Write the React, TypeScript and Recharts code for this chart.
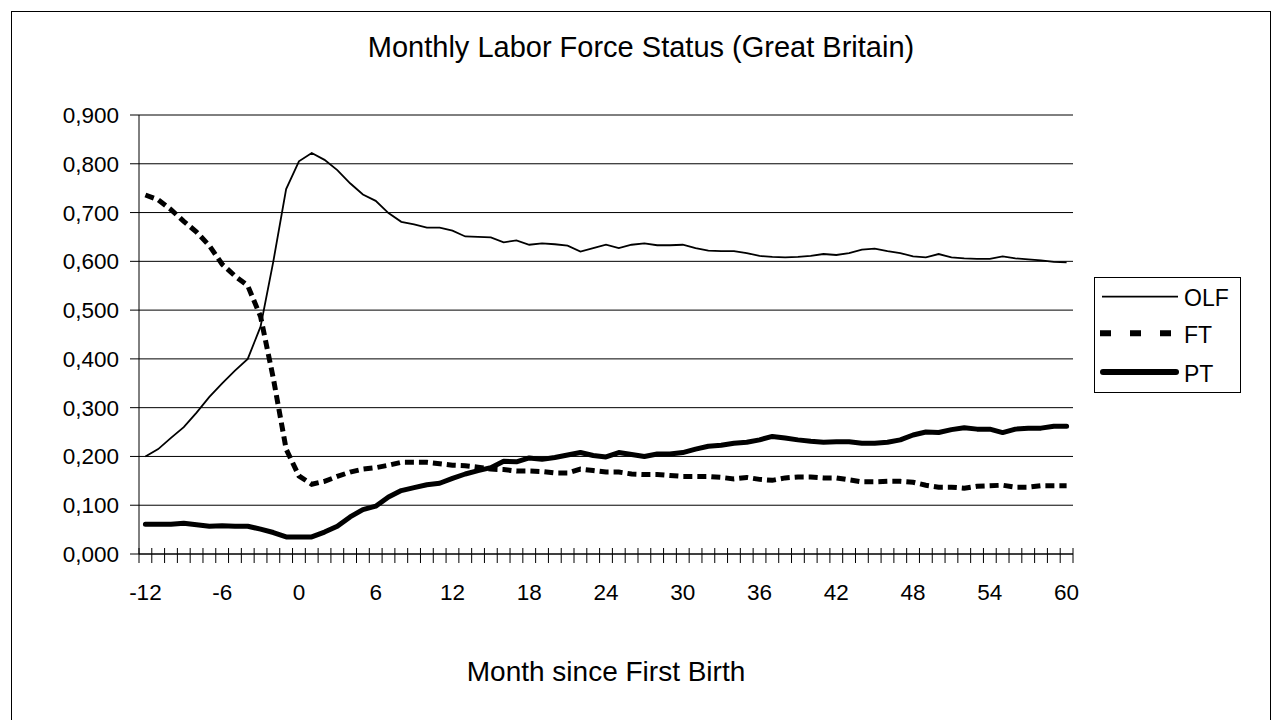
import { LineChart, Line, XAxis, YAxis, CartesianGrid } from "recharts";

const months = [
  -12, -11, -10, -9, -8, -7, -6, -5, -4, -3, -2, -1, 0, 1, 2, 3, 4, 5, 6, 7, 8, 9, 10, 11, 12,
  13, 14, 15, 16, 17, 18, 19, 20, 21, 22, 23, 24, 25, 26, 27, 28, 29, 30, 31, 32, 33, 34, 35, 36,
  37, 38, 39, 40, 41, 42, 43, 44, 45, 46, 47, 48, 49, 50, 51, 52, 53, 54, 55, 56, 57, 58, 59, 60,
];

const olf = [
  0.2, 0.215, 0.238, 0.26, 0.29, 0.322, 0.35, 0.376, 0.4, 0.466, 0.6, 0.748, 0.805, 0.822, 0.808,
  0.787, 0.76, 0.737, 0.724, 0.699, 0.681, 0.676, 0.669, 0.669, 0.663, 0.651, 0.65, 0.649, 0.639,
  0.643, 0.634, 0.637, 0.635, 0.632, 0.62, 0.627, 0.634, 0.627, 0.634, 0.637, 0.633, 0.633, 0.634,
  0.627, 0.622, 0.621, 0.621, 0.617, 0.611, 0.609, 0.608, 0.609, 0.611, 0.615, 0.613, 0.617, 0.624,
  0.626, 0.621, 0.617, 0.61, 0.608, 0.615, 0.608, 0.606, 0.605, 0.605, 0.61, 0.606, 0.604, 0.602,
  0.599, 0.598,
];

const ft = [
  0.736, 0.726, 0.706, 0.682, 0.66, 0.632, 0.594, 0.57, 0.55, 0.487, 0.36, 0.215, 0.16, 0.143,
  0.149, 0.159, 0.168, 0.174, 0.177, 0.182, 0.188, 0.188, 0.188, 0.185, 0.182, 0.181, 0.178, 0.174,
  0.173, 0.17, 0.17, 0.169, 0.166, 0.166, 0.174, 0.171, 0.168, 0.168, 0.164, 0.163, 0.163, 0.161,
  0.159, 0.159, 0.159, 0.157, 0.154, 0.157, 0.153, 0.151, 0.156, 0.158, 0.158, 0.156, 0.156, 0.152,
  0.148, 0.148, 0.149, 0.149, 0.147, 0.141, 0.137, 0.137, 0.135, 0.139, 0.14, 0.141, 0.137, 0.137,
  0.14, 0.14, 0.14,
];

const pt = [
  0.061, 0.061, 0.061, 0.063, 0.06, 0.057, 0.058, 0.057, 0.057, 0.051, 0.044, 0.035, 0.035, 0.035,
  0.045, 0.057, 0.076, 0.091, 0.098, 0.117, 0.13, 0.136, 0.142, 0.145, 0.155, 0.164, 0.171, 0.177,
  0.19, 0.189, 0.197, 0.194, 0.198, 0.203, 0.208, 0.202, 0.199, 0.208, 0.204, 0.2, 0.205, 0.205,
  0.208, 0.215, 0.221, 0.223, 0.227, 0.229, 0.234, 0.241, 0.238, 0.234, 0.231, 0.229, 0.23, 0.23,
  0.227, 0.227, 0.229, 0.234, 0.244, 0.25, 0.249, 0.255, 0.259, 0.256, 0.256, 0.249, 0.256, 0.258,
  0.258, 0.262, 0.262,
];

const yTicks = [0, 0.1, 0.2, 0.3, 0.4, 0.5, 0.6, 0.7, 0.8, 0.9];

const data = months.map((m, i) => ({ month: m, OLF: olf[i], FT: ft[i], PT: pt[i] }));

const FONT = "'Liberation Sans', Arial, sans-serif";
const PLOT_LEFT = 139;
const PLOT_RIGHT = 1073;
const BAND = (PLOT_RIGHT - PLOT_LEFT) / months.length;

function MonthTick(props: any) {
  const { x, y, payload, index } = props;
  const m = payload.value as number;
  return (
    <g>
      <line x1={x - BAND / 2} x2={x - BAND / 2} y1={y - 6} y2={y + 9} stroke="#000" />
      {index === months.length - 1 && (
        <line x1={x + BAND / 2} x2={x + BAND / 2} y1={y - 6} y2={y + 9} stroke="#000" />
      )}
      {m % 6 === 0 && (
        <text x={x} y={y + 46} textAnchor="middle" fontSize={22.5} fontFamily={FONT} fill="#000">
          {m}
        </text>
      )}
    </g>
  );
}

export default function App() {
  return (
    <div
      style={{
        position: "absolute",
        left: 0,
        top: 0,
        width: 1272,
        height: 720,
        background: "#fff",
        fontFamily: FONT,
      }}
    >
      <LineChart
        width={1272}
        height={720}
        data={data}
        margin={{ top: 115, right: 1272 - PLOT_RIGHT, bottom: 106, left: PLOT_LEFT - 80 }}
      >
        <CartesianGrid vertical={false} stroke="#000" />
        <XAxis
          dataKey="month"
          interval={0}
          height={60}
          tickLine={false}
          tickSize={0}
          tickMargin={0}
          padding={{ left: BAND / 2, right: BAND / 2 }}
          axisLine={{ stroke: "#000" }}
          tick={<MonthTick />}
        />
        <YAxis
          width={80}
          domain={[0, 0.9]}
          ticks={yTicks}
          tickSize={9}
          tickMargin={11}
          tickFormatter={(v: number) => v.toFixed(3).replace(".", ",")}
          axisLine={{ stroke: "#000" }}
          tickLine={{ stroke: "#000" }}
          tick={{ fontSize: 22.5, fill: "#000", fontFamily: FONT }}
        />
        <YAxis
          yAxisId="right"
          orientation="right"
          width={0}
          domain={[0, 0.9]}
          tick={false}
          tickLine={false}
          axisLine={{ stroke: "#808080" }}
        />
        <Line
          dataKey="OLF"
          type="linear"
          stroke="#000"
          strokeWidth={1.8}
          dot={false}
          isAnimationActive={false}
        />
        <Line
          dataKey="FT"
          type="linear"
          stroke="#000"
          strokeWidth={5}
          strokeDasharray="9 5"
          dot={false}
          isAnimationActive={false}
        />
        <Line
          dataKey="PT"
          type="linear"
          stroke="#000"
          strokeWidth={5}
          strokeLinejoin="round"
          strokeLinecap="round"
          dot={false}
          isAnimationActive={false}
        />
      </LineChart>
      <svg
        width={1272}
        height={720}
        style={{ position: "absolute", left: 0, top: 0, pointerEvents: "none" }}
        fontFamily={FONT}
      >
        <rect x={11.5} y={11.5} width={1259} height={720} fill="none" stroke="#000" />
        <text x={641} y={57} textAnchor="middle" fontSize={29} fill="#000">
          Monthly Labor Force Status (Great Britain)
        </text>
        <text x={606} y={681} textAnchor="middle" fontSize={28} fill="#000">
          Month since First Birth
        </text>
        <rect x={1094.5} y={277.5} width={146} height={115} fill="#fff" stroke="#000" />
        <line x1={1102} x2={1178} y1={296.7} y2={296.7} stroke="#000" strokeWidth={1.8} />
        <text x={1184} y={305.7} fontSize={23} fill="#000">
          OLF
        </text>
        <line
          x1={1100}
          x2={1178}
          y1={333.3}
          y2={333.3}
          stroke="#000"
          strokeWidth={6}
          strokeDasharray="11 19"
        />
        <text x={1184} y={343.3} fontSize={23} fill="#000">
          FT
        </text>
        <line
          x1={1103}
          x2={1176}
          y1={372}
          y2={372}
          stroke="#000"
          strokeWidth={6}
          strokeLinecap="round"
        />
        <text x={1184} y={382} fontSize={23} fill="#000">
          PT
        </text>
      </svg>
    </div>
  );
}
